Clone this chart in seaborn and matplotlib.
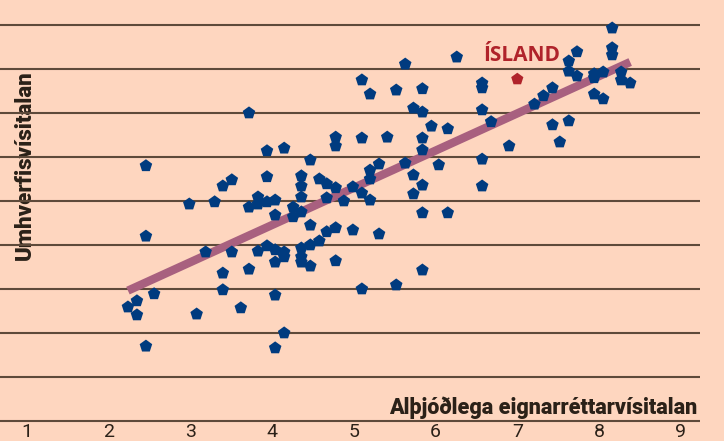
import numpy as np
import pandas as pd
import matplotlib
matplotlib.use('Agg')
import matplotlib.pyplot as plt
import seaborn as sns

# Values: property rights index (x) vs environment index (y)
eignarrettur = [2.46, 3.72, 3.94, 4.15, 3.40, 3.51, 3.94, 6.26, 5.63, 5.10,
                5.20, 5.52, 5.84, 5.73, 5.84, 5.95, 6.15, 4.78, 4.78, 5.10,
                5.41, 5.84, 5.84, 4.47, 5.63, 6.04, 5.31, 5.20, 5.20, 4.36,
                4.36, 4.58, 4.67, 4.78, 4.99, 5.10, 5.73, 5.84, 8.16, 8.16,
                8.16, 7.73, 7.63, 7.63, 7.73, 7.94, 7.94, 8.05, 8.27, 8.27,
                8.38, 7.94, 8.05, 6.57, 6.57, 7.43, 7.32, 7.21, 6.57, 6.68,
                7.43, 7.63, 7.52, 6.90, 6.57, 6.57, 5.73, 5.84, 6.15, 5.84,
                2.99, 3.30, 3.72, 3.83, 3.83, 3.94, 4.04, 4.04, 2.46, 3.19,
                3.51, 3.83, 3.94, 4.04, 4.15, 4.15, 4.04, 3.40, 3.72, 3.40,
                2.56, 2.35, 2.24, 2.35, 3.08, 3.62, 4.04, 4.15, 4.04, 2.46,
                4.36, 4.26, 4.26, 4.36, 4.67, 4.88, 5.20, 4.47, 4.67, 4.78,
                4.99, 5.31, 4.58, 4.47, 4.36, 4.36, 4.36, 4.47, 4.78, 5.10,
                5.52]
umhverfi = [5.80, 7.00, 6.14, 6.20, 5.34, 5.48, 5.55, 8.27, 8.11, 7.75,
            7.43, 7.52, 7.55, 7.11, 7.02, 6.70, 6.64, 6.45, 6.25, 6.43,
            6.45, 6.43, 6.16, 5.93, 5.86, 5.82, 5.84, 5.70, 5.50, 5.57,
            5.34, 5.50, 5.39, 5.30, 5.32, 5.18, 5.59, 5.36, 8.93, 8.48,
            8.32, 8.39, 8.18, 7.95, 7.84, 7.89, 7.80, 7.93, 7.93, 7.75,
            7.68, 7.43, 7.32, 7.68, 7.57, 7.57, 7.39, 7.20, 7.07, 6.80,
            6.73, 6.82, 6.34, 6.25, 5.95, 5.34, 5.16, 4.73, 4.73, 3.43,
            4.93, 4.98, 4.86, 5.09, 4.93, 4.98, 5.02, 4.68, 4.20, 3.84,
            3.84, 3.86, 3.98, 3.89, 3.84, 3.73, 3.61, 3.36, 3.45, 2.98,
            2.89, 2.73, 2.59, 2.41, 2.43, 2.57, 2.86, 2.00, 1.66, 1.70,
            5.09, 4.86, 4.64, 4.75, 5.07, 5.00, 5.02, 4.45, 4.30, 4.39,
            4.34, 4.25, 4.09, 4.00, 3.93, 3.73, 3.61, 3.52, 3.64, 3.00,
            3.09]
island_x = [7.00]
island_y = [7.77]
x_ticks = [1, 2, 3, 4, 5, 6, 7, 8, 9]
grid_y = [0, 1, 2, 3, 4, 5, 6, 7, 8, 9]

bg = '#FED6BF'
dark = '#2B2118'
navy = '#003B7F'
mauve = '#A8607F'
red = '#B0232A'

sns.set_theme(style='white')
plt.rcParams['font.family'] = ['Roboto', 'DejaVu Sans']

df = pd.DataFrame({'x': eignarrettur, 'y': umhverfi})

fig = plt.figure(figsize=(7.24, 4.41), dpi=100)
fig.patch.set_facecolor(bg)
ax = fig.add_axes([0, 20 / 441, 1, 421 / 441])
ax.set_facecolor(bg)

# horizontal rules
ax.hlines(grid_y, 0.676, 9.233, color='#5E4A3A', lw=1.5, zorder=1, clip_on=False)

# trend line + country points
sns.regplot(data=df, x='x', y='y', ax=ax, ci=None, truncate=True, scatter=False,
            line_kws={'color': mauve, 'lw': 6, 'solid_capstyle': 'butt', 'zorder': 2})
sns.scatterplot(data=df, x='x', y='y', ax=ax, marker='p', s=90, color=navy,
                edgecolor='none', zorder=3)
ax.scatter(island_x, island_y, marker='p', s=85, color=red, edgecolor='none', zorder=3)
ax.annotate('ÍSLAND', (island_x[0], island_y[0]), xytext=(5, 24),
            textcoords='offset pixels', ha='center', va='center', color=red,
            fontsize=15, fontweight='bold', family=['Open Sans', 'DejaVu Sans'])

ax.set_xlim(0.676, 9.527)
ax.set_ylim(0, 421 / 44)
ax.set_xticks(x_ticks)
ax.set_xticklabels([str(t) for t in x_ticks], fontsize=14, color=dark)
ax.tick_params(axis='x', length=0, pad=1.5)
ax.set_yticks([])
for s in ax.spines.values():
    s.set_visible(False)

ax.set_xlabel('Alþjóðlega eignarréttarvísitalan', fontsize=15.5, fontweight='black',
              color=dark, ha='right', va='center')
ax.xaxis.set_label_coords(697 / 724, 13 / 421)
ax.set_ylabel('Umhverfisvísitalan', fontsize=16, fontweight='black', color=dark,
              va='center')
ax.yaxis.set_label_coords(25 / 724, 256 / 421)

fig.savefig('out.png', dpi=100, facecolor=bg)
